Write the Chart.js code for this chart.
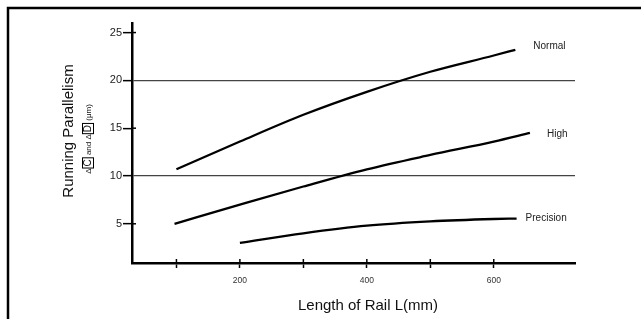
<!DOCTYPE html>
<html>
<head>
<meta charset="utf-8">
<script src="https://cdn.jsdelivr.net/npm/chart.js@4/dist/chart.umd.min.js"></script>
<style>
  html, body { margin: 0; padding: 0; background: #fff; }
  #wrap { position: relative; width: 641px; height: 319px; }
</style>
</head>
<body>
<div id="wrap"><canvas id="chart"></canvas></div>
<script>
// Data (length of rail in mm, parallelism in um)
const normalLen = [100, 200, 300, 400, 500, 600, 634];
const normalVal = [10.7, 13.6, 16.4, 18.8, 20.9, 22.6, 23.2];

const highLen = [97, 200, 300, 400, 500, 600, 657];
const highVal = [5.0, 7.0, 8.9, 10.7, 12.2, 13.6, 14.5];

const precisionLen = [200, 300, 400, 500, 600, 636];
const precisionVal = [3.0, 4.0, 4.8, 5.25, 5.5, 5.55];

const seriesNames = ["Normal", "High", "Precision"];
const xTickValues = [100, 200, 300, 400, 500, 600];
const xTickLabels = ["", "200", "", "400", "", "600"];
const yTickValues = [5, 10, 15, 20, 25];

const FONT = "'Liberation Sans', Arial, Helvetica, sans-serif";

function toPoints(xs, ys) {
    return xs.map((x, i) => ({ x: x, y: ys[i] }));
}

function lineSet(label, xs, ys) {
    return {
        label: label,
        data: toPoints(xs, ys),
        borderColor: "#000",
        borderWidth: 2.3,
        pointRadius: 0,
        fill: false,
        cubicInterpolationMode: "monotone",
    };
}

// frame, titles, curve labels and the small inner tick stubs
const decorations = {
    id: "decorations",
    beforeDraw(chart) {
        const ctx = chart.ctx;
        ctx.save();
        ctx.strokeStyle = "#000";
        ctx.lineWidth = 2.5;
        ctx.beginPath();
        ctx.moveTo(8, 319);
        ctx.lineTo(8, 8);
        ctx.lineTo(641, 8);
        ctx.stroke();
        ctx.restore();
    },
    afterDraw(chart) {
        const ctx = chart.ctx;
        const xs = chart.scales.x;
        const ys = chart.scales.y;
        const area = chart.chartArea;
        ctx.save();

        // inner tick stubs
        ctx.strokeStyle = "#000";
        ctx.lineWidth = 1.5;
        [5, 15, 25].forEach(v => {
            const py = ys.getPixelForValue(v);
            ctx.beginPath();
            ctx.moveTo(area.left, py);
            ctx.lineTo(area.left + 4, py);
            ctx.stroke();
        });
        xTickValues.forEach(v => {
            const px = xs.getPixelForValue(v);
            ctx.beginPath();
            ctx.moveTo(px, area.bottom);
            ctx.lineTo(px, area.bottom - 4);
            ctx.stroke();
        });

        // curve labels next to the line ends
        ctx.fillStyle = "#222";
        ctx.font = "10px " + FONT;
        ctx.textBaseline = "middle";
        ctx.textAlign = "left";
        const offsets = [[18, -4], [17, 1], [9, 0]];
        chart.data.datasets.forEach((ds, i) => {
            const last = ds.data[ds.data.length - 1];
            const px = xs.getPixelForValue(last.x) + offsets[i][0];
            const py = ys.getPixelForValue(last.y) + offsets[i][1];
            ctx.fillText(seriesNames[i], px, py);
        });

        // x axis title
        ctx.fillStyle = "#111";
        ctx.font = "15px " + FONT;
        ctx.textAlign = "center";
        ctx.fillText("Length of Rail L(mm)", 368, 306);

        // y axis title
        ctx.save();
        ctx.translate(69, 131);
        ctx.rotate(-Math.PI / 2);
        ctx.fillText("Running Parallelism", 0, 0);
        ctx.restore();

        // y axis sub title with boxed letters
        ctx.save();
        ctx.translate(88, 139);
        ctx.rotate(-Math.PI / 2);
        const parts = [
            { t: "\u0394", f: 8, box: false },
            { t: "C", f: 10, box: true },
            { t: " and \u0394", f: 8, box: false },
            { t: "D", f: 10, box: true },
            { t: " (\u03bcm)", f: 8, box: false },
        ];
        let total = 0;
        parts.forEach(p => {
            ctx.font = p.f + "px " + FONT;
            p.w = ctx.measureText(p.t).width + (p.box ? 4 : 0);
            total += p.w;
        });
        let cx = -total / 2;
        ctx.textAlign = "left";
        parts.forEach(p => {
            ctx.font = p.f + "px " + FONT;
            if (p.box) {
                ctx.lineWidth = 1;
                ctx.strokeStyle = "#000";
                ctx.strokeRect(cx + 0.5, -5.5, p.w - 1, 11);
                ctx.fillText(p.t, cx + 2, 0.5);
            } else {
                ctx.fillText(p.t, cx, 0.5);
            }
            cx += p.w;
        });
        ctx.restore();

        ctx.restore();
    },
};

const chart = new Chart(document.getElementById("chart").getContext("2d"), {
    type: "line",
    data: {
        datasets: [
            lineSet(seriesNames[0], normalLen, normalVal),
            lineSet(seriesNames[1], highLen, highVal),
            lineSet(seriesNames[2], precisionLen, precisionVal),
        ],
    },
    options: {
        responsive: true,
        maintainAspectRatio: false,
        animation: false,
        layout: { padding: { left: 0, top: 23, right: 66, bottom: 0 } },
        plugins: {
            legend: { display: false },
            tooltip: { enabled: false },
        },
        scales: {
            x: {
                type: "linear",
                min: 30,
                max: 728,
                afterFit(scale) { scale.height = 56; },
                afterBuildTicks(scale) {
                    scale.ticks = xTickValues.map(v => ({ value: v }));
                },
                ticks: {
                    callback: (v) => xTickLabels[xTickValues.indexOf(v)] || "",
                    autoSkip: false,
                    maxRotation: 0,
                    padding: 8,
                    color: "#333",
                    font: { family: FONT, size: 8.5 },
                },
                grid: {
                    drawOnChartArea: false,
                    tickLength: 5,
                    tickColor: "#000",
                    tickWidth: 1.5,
                },
                border: { display: true, color: "#000", width: 2.5 },
            },
            y: {
                type: "linear",
                min: 0.9,
                max: 26,
                afterFit(scale) { scale.width = 132; },
                afterBuildTicks(scale) {
                    scale.ticks = yTickValues.map(v => ({ value: v }));
                },
                ticks: {
                    padding: 1,
                    color: "#222",
                    font: { family: FONT, size: 11 },
                },
                grid: {
                    color: (c) => (c.tick && c.tick.value % 10 === 0 ? "#444" : "rgba(0,0,0,0)"),
                    lineWidth: 1.3,
                    tickLength: 9,
                    tickColor: "#000",
                    tickWidth: 1.5,
                },
                border: { display: true, color: "#000", width: 2.5 },
            },
        },
    },
    plugins: [decorations],
});
</script>
</body>
</html>
